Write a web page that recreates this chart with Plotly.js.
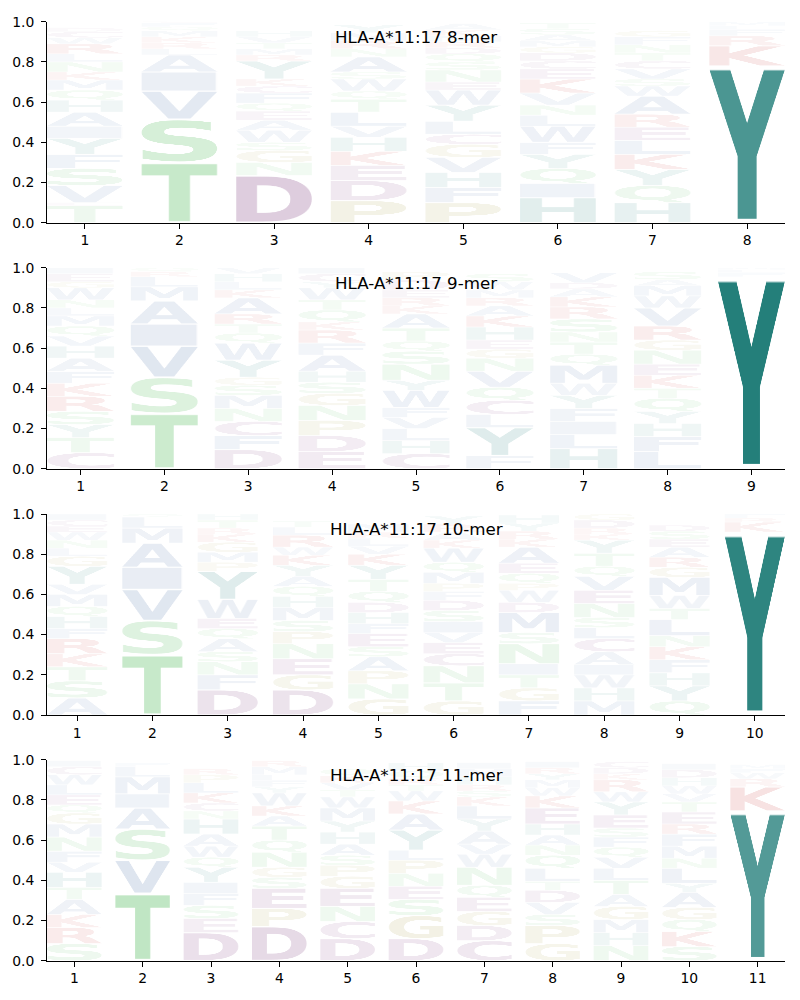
<!DOCTYPE html>
<html><head><meta charset="utf-8">
<script src="https://cdn.plot.ly/plotly-3.0.1.min.js"></script>
<style>body{margin:0;background:#fff}#chart{width:800px;height:1000px}</style>
</head><body><div id="chart"></div>
<script>
// ---------- DATA (letters listed bottom -> top, heights = probability) ----------
const titles = ["HLA-A*11:17 8-mer", "HLA-A*11:17 9-mer", "HLA-A*11:17 10-mer", "HLA-A*11:17 11-mer"];

const mer8Letters = ["TEVSFYIAHQMKNLRWCD","TSVIALRKMQFC","DNGSWAEQFCKYRMTVH","PDEKHVLTQWSANRMY",
  "PFHVGCLYWENSQDRMKA","HIQYFWLNVKECDGMAST","HQYKLERAWSVCTNFG","YKRFLM"];
const mer8Heights = [
  [.085,.015,.085,.085,.07,.08,.06,.07,.06,.05,.05,.04,.05,.04,.05,.03,.03,.02],
  [.30,.215,.14,.095,.085,.03,.03,.03,.03,.02,.02,.01],
  [.235,.065,.06,.04,.06,.05,.045,.04,.05,.035,.035,.09,.03,.03,.03,.03,.03],
  [.11,.10,.075,.07,.07,.055,.07,.065,.04,.06,.035,.075,.04,.04,.04,.04],
  [.10,.075,.075,.075,.065,.05,.065,.08,.075,.04,.06,.04,.04,.03,.03,.03,.03,.03],
  [.125,.07,.075,.07,.06,.08,.055,.05,.06,.07,.05,.04,.04,.03,.03,.03,.03,.03],
  [.10,.085,.08,.075,.07,.065,.065,.09,.05,.035,.05,.04,.04,.04,.04,.03],
  [.78,.10,.05,.03,.02,.02]
];

const mer9Letters = ["CTYSRKFAHVQMLNWGEI","TSVIAMLRQ","DFCNMSGYWQTRAKLHV","EDPNGSHAFRKQTWYCI",
  "CHLVFWYNSQTAKREDP","FYLCQVNGEHKARMWS","HLIFYWMQTNSRKADV","LFHYQTKENGRVWMAS","YFLM"];
const mer9Heights = [
  [.08,.075,.065,.065,.075,.065,.06,.065,.06,.05,.05,.05,.04,.04,.06,.03,.04,.03],
  [.275,.18,.155,.11,.115,.07,.05,.025,.02],
  [.095,.07,.07,.065,.065,.05,.04,.085,.085,.05,.045,.05,.08,.04,.04,.04,.03],
  [.085,.08,.075,.075,.06,.055,.055,.08,.06,.065,.04,.06,.05,.06,.03,.04,.03],
  [.075,.065,.06,.055,.05,.085,.05,.08,.065,.05,.065,.07,.04,.04,.04,.05,.04],
  [.065,.14,.065,.07,.065,.08,.065,.045,.045,.065,.055,.05,.04,.04,.04,.04],
  [.10,.07,.065,.065,.065,.06,.09,.055,.06,.05,.065,.06,.05,.04,.03,.05],
  [.085,.075,.065,.06,.065,.05,.065,.055,.07,.05,.07,.09,.06,.05,.03,.04],
  [.955,.02,.015,.01]
];

const mer10Letters = ["ASTKRFHQMVYGLNWECI","TSVIAMLQ","DFNSAQEWYPMGKRTH","DGENPSMHQAYKWRLT",
  "GNPASEFHDQTYKVLRM","GTNCEVISDFPMQWKARY","FGTINSMDWPQEAKRYH","MHWIACLSNEVQTYKRDG",
  "QYHFKNLTWMGRAESD","YKRF"];
const mer10Heights = [
  [.085,.085,.07,.065,.075,.05,.06,.05,.06,.05,.09,.05,.04,.04,.04,.03,.03,.03],
  [.30,.17,.155,.11,.12,.075,.055,.015],
  [.125,.075,.065,.05,.065,.05,.05,.095,.14,.045,.05,.05,.04,.03,.04,.03],
  [.125,.075,.08,.075,.06,.055,.065,.055,.05,.05,.055,.05,.04,.06,.04,.03],
  [.08,.075,.065,.07,.05,.065,.05,.055,.05,.055,.06,.07,.055,.04,.04,.03,.04],
  [.07,.09,.085,.06,.055,.05,.055,.055,.05,.045,.04,.055,.05,.07,.04,.04,.04,.04],
  [.07,.065,.065,.055,.10,.055,.10,.05,.06,.035,.05,.05,.08,.04,.04,.04,.04],
  [.07,.065,.065,.05,.065,.065,.055,.05,.07,.065,.07,.05,.065,.065,.03,.03,.04,.03],
  [.07,.075,.065,.065,.065,.055,.08,.055,.065,.09,.05,.05,.05,.04,.04,.03],
  [.91,.05,.02,.02]
];

const mer11Letters = ["SRKATHVFNMGQELWCI","TVSAIMLF","DESFIYQWAHNCKLPR","DPESGNQTAKWYFLMR",
  "DCNEGPSAHYMWTVKQ","DGSENPLYAKWTRQH","CDGEQNWVAYLKSRHMI","GPSVDTLQNAHEKWMYRI",
  "NHMGATLVQFSEYWRKDC","SKQGAYLNMFRETVWHDI","YKRWFM"];
const mer11Heights = [
  [.085,.08,.065,.075,.06,.075,.05,.055,.07,.065,.055,.04,.05,.05,.05,.04,.03],
  [.335,.165,.155,.105,.07,.085,.05,.02],
  [.14,.07,.065,.06,.055,.075,.05,.055,.06,.075,.04,.04,.05,.05,.04,.03],
  [.17,.09,.10,.055,.05,.075,.06,.07,.05,.05,.065,.03,.03,.03,.04,.03],
  [.11,.085,.075,.09,.06,.055,.05,.055,.06,.055,.065,.055,.035,.035,.035,.035],
  [.11,.115,.08,.065,.065,.065,.05,.10,.08,.065,.05,.03,.03,.04,.04],
  [.10,.075,.07,.07,.06,.09,.065,.05,.065,.06,.065,.045,.03,.03,.04,.04,.03],
  [.085,.09,.055,.06,.06,.045,.065,.065,.05,.05,.055,.08,.06,.04,.04,.03,.03,.03],
  [.075,.065,.065,.065,.06,.07,.06,.055,.05,.05,.045,.065,.065,.05,.06,.03,.03,.03],
  [.07,.075,.06,.06,.075,.045,.075,.05,.06,.06,.05,.06,.05,.04,.04,.04,.04,.03],
  [.745,.12,.04,.03,.02,.02]
];

// ---------- STYLE ----------
const groupColors = {
  teal: "rgb(31,124,119)", green: "rgb(66,180,76)", purple: "rgb(112,40,112)",
  red: "rgb(190,30,30)", olive: "rgb(150,140,40)", blue: "rgb(60,100,160)"
};
const letterGroup = {Y:"teal",H:"teal",S:"green",T:"green",N:"green",Q:"green",
  D:"purple",E:"purple",C:"purple",K:"red",R:"red",G:"olive",P:"olive",
  A:"blue",V:"blue",I:"blue",L:"blue",M:"blue",F:"blue",W:"blue"};

const glyphCache = {};
function glyph(letter) {
  if (glyphCache[letter]) return glyphCache[letter];
  const fontStr = 'bold 240px "DejaVu Sans"';
  const c0 = document.createElement('canvas');
  const ctx0 = c0.getContext('2d');
  ctx0.font = fontStr;
  const m = ctx0.measureText(letter);
  const l = m.actualBoundingBoxLeft, r = m.actualBoundingBoxRight;
  const a = m.actualBoundingBoxAscent, d = m.actualBoundingBoxDescent;
  const c = document.createElement('canvas');
  c.width = Math.max(1, Math.ceil(l + r));
  c.height = Math.max(1, Math.ceil(a + d));
  const ctx = c.getContext('2d');
  ctx.font = fontStr;
  ctx.fillStyle = groupColors[letterGroup[letter]];
  ctx.textBaseline = 'alphabetic';
  ctx.fillText(letter, l, a);
  glyphCache[letter] = c.toDataURL('image/png');
  return glyphCache[letter];
}
function letterAlpha(h) { return Math.min(1, h < 0.4 ? 0.95 * h + 0.01 : h + 0.02); }

const panels = [
  {title: titles[0], letters: mer8Letters, heights: mer8Heights},
  {title: titles[1], letters: mer9Letters, heights: mer9Heights},
  {title: titles[2], letters: mer10Letters, heights: mer10Heights},
  {title: titles[3], letters: mer11Letters, heights: mer11Heights}
];

const H = 1000;
const axisTops = [21.7, 267.7, 514, 759.7];
const axisBottoms = [222.7, 468.7, 715, 960.7];
const letterWidth = 0.8, vpad = 0.05;
const font = {family: '"DejaVu Sans", sans-serif', size: 13.9, color: '#000'};

const layout = {
  width: 800, height: 1000, showlegend: false,
  margin: {l: 47, r: 15, t: 0, b: 0},
  paper_bgcolor: '#fff', plot_bgcolor: '#fff',
  images: [], annotations: []
};
const traces = [];

panels.forEach((p, i) => {
  const n = p.letters.length;
  const sfx = i === 0 ? '' : String(i + 1);
  const xa = 'x' + sfx, ya = 'y' + sfx;
  const positions = Array.from({length: n}, (_, k) => k + 1);
  layout['xaxis' + sfx] = {
    domain: [0, 1], anchor: ya, range: [0.6, n + 0.4],
    tickmode: 'array', tickvals: positions, ticktext: positions.map(String),
    showline: true, linecolor: '#000', linewidth: 1, mirror: false,
    ticks: 'outside', ticklen: 5, tickwidth: 1, tickcolor: '#000',
    showgrid: false, zeroline: false, tickfont: font, automargin: false, fixedrange: true
  };
  layout['yaxis' + sfx] = {
    domain: [1 - axisBottoms[i] / H, 1 - axisTops[i] / H], anchor: xa, range: [0, 1],
    tickmode: 'array', tickvals: [0, 0.2, 0.4, 0.6, 0.8, 1.0],
    ticktext: ['0.0', '0.2', '0.4', '0.6', '0.8', '1.0'],
    showline: true, linecolor: '#000', linewidth: 1,
    ticks: 'outside', ticklen: 5, tickwidth: 1, tickcolor: '#000',
    showgrid: false, zeroline: false, tickfont: font, automargin: false, fixedrange: true,
    ticklabelstandoff: 4
  };
  traces.push({x: positions, y: positions.map(() => 0), xaxis: xa, yaxis: ya,
    type: 'scatter', mode: 'markers', marker: {opacity: 0, size: 1}, hoverinfo: 'skip'});

  p.letters.forEach((col, k) => {
    const hs = p.heights[k];
    let floor = 0;
    col.split('').forEach((ch, j) => {
      const h = hs[j];
      const pad = h * vpad / 2;
      layout.images.push({
        source: glyph(ch), xref: xa, yref: ya,
        x: positions[k] - letterWidth / 2, y: floor + h - pad,
        sizex: letterWidth, sizey: h - 2 * pad,
        sizing: 'stretch', xanchor: 'left', yanchor: 'top',
        opacity: letterAlpha(h), layer: 'above'
      });
      floor += h;
    });
  });

  layout.annotations.push({
    text: p.title, xref: xa + ' domain', yref: ya + ' domain', x: 0.5, y: 0.925,
    xanchor: 'center', yanchor: 'middle', showarrow: false,
    font: {family: '"DejaVu Sans", sans-serif', size: 16.7, color: '#000'}
  });
});

Plotly.newPlot('chart', traces, layout, {staticPlot: true, displayModeBar: false});
</script>
</body></html>
